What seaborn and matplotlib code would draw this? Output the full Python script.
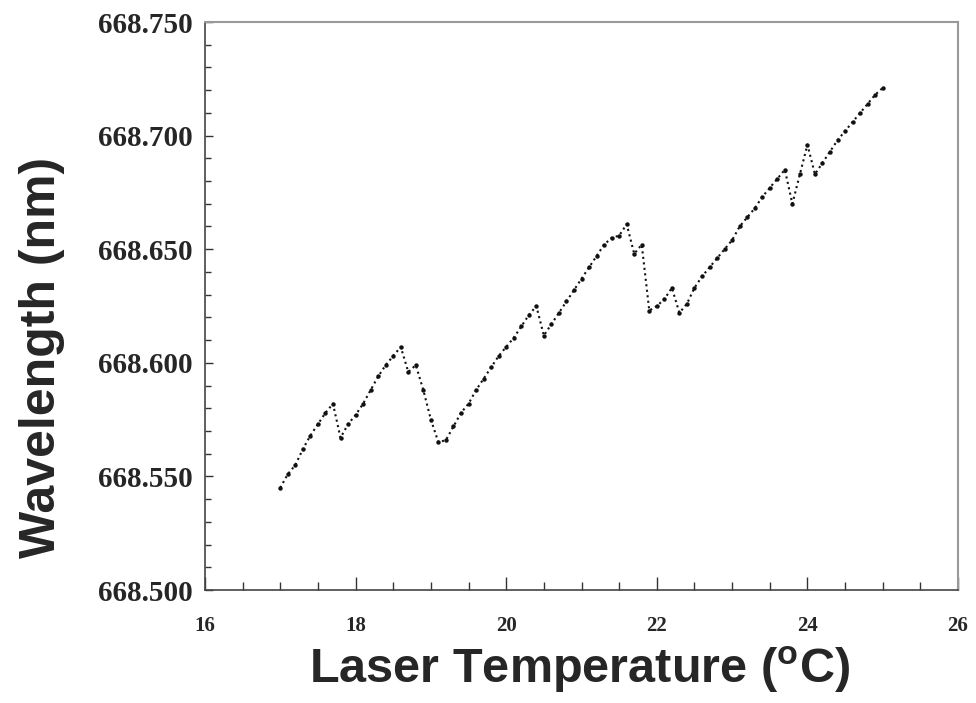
import numpy as np
import matplotlib
matplotlib.use('Agg')
import matplotlib.pyplot as plt
import seaborn as sns
import pandas as pd
from matplotlib.ticker import MultipleLocator, FormatStrFormatter

temp = [17.0, 17.1, 17.2, 17.3, 17.4, 17.5, 17.6, 17.7, 17.8, 17.9,
        18.0, 18.1, 18.2, 18.3, 18.4, 18.5, 18.6, 18.7, 18.8, 18.9,
        19.0, 19.1, 19.2, 19.3, 19.4, 19.5, 19.6, 19.7, 19.8, 19.9,
        20.0, 20.1, 20.2, 20.3, 20.4, 20.5, 20.6, 20.7, 20.8, 20.9,
        21.0, 21.1, 21.2, 21.3, 21.4, 21.5, 21.6, 21.7, 21.8, 21.9,
        22.0, 22.1, 22.2, 22.3, 22.4, 22.5, 22.6, 22.7, 22.8, 22.9,
        23.0, 23.1, 23.2, 23.3, 23.4, 23.5, 23.6, 23.7, 23.8, 23.9,
        24.0, 24.1, 24.2, 24.3, 24.4, 24.5, 24.6, 24.7, 24.8, 24.9,
        25.0]
wavelength = [668.545, 668.551, 668.555, 668.562, 668.568, 668.573, 668.578, 668.582, 668.567, 668.573,
              668.577, 668.582, 668.588, 668.594, 668.599, 668.603, 668.607, 668.596, 668.599, 668.588,
              668.575, 668.565, 668.566, 668.572, 668.578, 668.582, 668.588, 668.593, 668.598, 668.603,
              668.607, 668.611, 668.616, 668.621, 668.625, 668.612, 668.617, 668.622, 668.627, 668.632,
              668.637, 668.642, 668.647, 668.652, 668.655, 668.656, 668.661, 668.648, 668.652, 668.623,
              668.625, 668.628, 668.633, 668.622, 668.626, 668.633, 668.638, 668.642, 668.646, 668.650,
              668.654, 668.660, 668.664, 668.668, 668.673, 668.677, 668.681, 668.685, 668.670, 668.683,
              668.696, 668.683, 668.688, 668.693, 668.698, 668.702, 668.706, 668.710, 668.714, 668.718,
              668.721]

df = pd.DataFrame({'temp': temp, 'wavelength': wavelength})

sns.set_style('ticks')
plt.rcParams['mathtext.default'] = 'regular'

fig = plt.figure(figsize=(9.76, 7.03), dpi=100)
ax = fig.add_axes([0.210, 0.1607, 0.7716, 0.808])

sns.lineplot(data=df, x='temp', y='wavelength', ax=ax, color='#111111',
             linestyle=':', linewidth=1.5, marker='o', markersize=3.2,
             markeredgewidth=0)

ax.set_xlim(16, 26)
ax.set_ylim(668.5, 668.75)
ax.xaxis.set_major_locator(MultipleLocator(2))
ax.xaxis.set_minor_locator(MultipleLocator(0.5))
ax.yaxis.set_major_locator(MultipleLocator(0.05))
ax.yaxis.set_minor_locator(MultipleLocator(0.01))
ax.yaxis.set_major_formatter(FormatStrFormatter('%.3f'))

ax.tick_params(which='both', direction='in', color='#333333', width=1)
ax.tick_params(axis='x', which='major', length=9.5, pad=19)
ax.tick_params(axis='x', which='minor', length=6)
ax.tick_params(axis='y', which='major', length=6, pad=9)
ax.tick_params(axis='y', which='minor', length=4)
for lab in ax.get_xticklabels():
    lab.set_fontfamily('Liberation Serif')
    lab.set_fontweight('bold')
    lab.set_fontsize(15)
for lab in ax.get_yticklabels():
    lab.set_fontfamily('Liberation Serif')
    lab.set_fontweight('bold')
    lab.set_fontsize(21)

for s in ['left', 'bottom']:
    ax.spines[s].set_color('#444444')
    ax.spines[s].set_linewidth(1.2)
for s in ['top', 'right']:
    ax.spines[s].set_color('#999999')
    ax.spines[s].set_linewidth(1.5)

ax.set_xlabel(r'Laser Temperature ($^{o}$C)', fontfamily='Liberation Sans',
              fontweight='bold', fontsize=35)
ax.set_ylabel('Wavelength (nm)', fontfamily='Liberation Sans',
              fontweight='bold', fontsize=36)
ax.xaxis.set_label_coords(0.498, -0.096)
ax.yaxis.set_label_coords(-0.186, 0.41)

plt.savefig('out.png', dpi=100)
